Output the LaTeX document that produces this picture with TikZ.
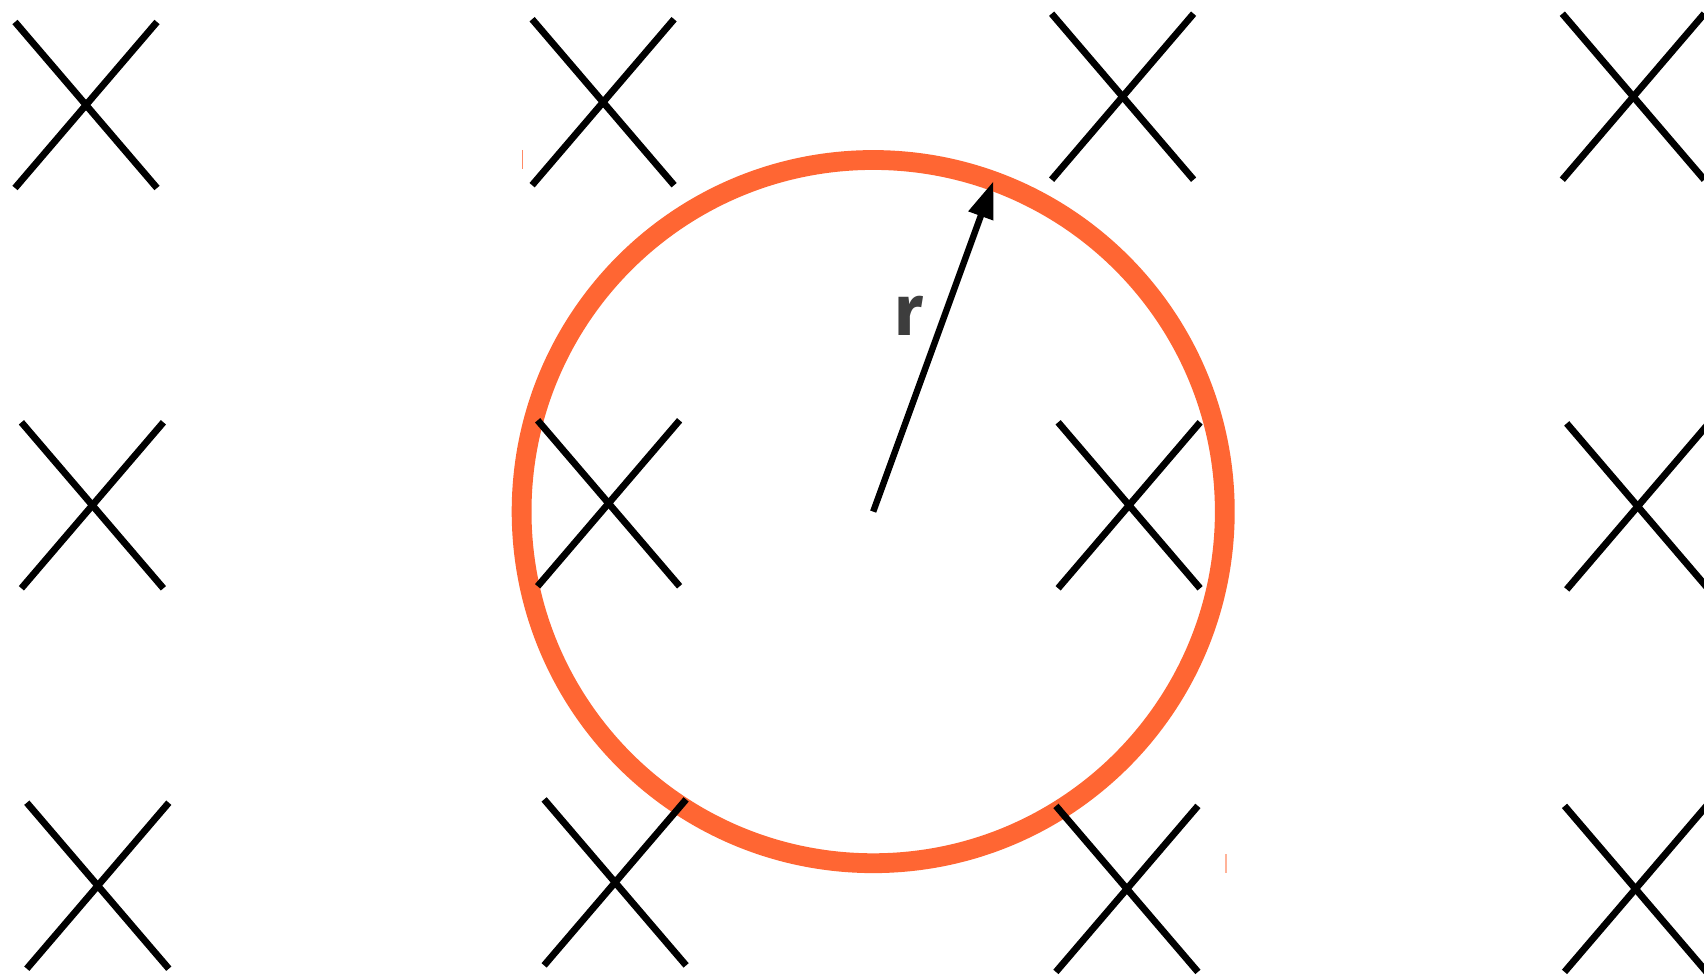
\documentclass[tikz,border=0pt]{standalone}
\usepackage{fontspec}
\setmainfont{Fira Sans}
\usetikzlibrary{arrows.meta}
\definecolor{ringorange}{HTML}{FF6633}
\definecolor{tickorange}{HTML}{FF8A66}
\definecolor{ticklight}{HTML}{FFB399}
\definecolor{labelgray}{HTML}{3D3D3D}
\tikzset{
  xline/.style={line width=6.8pt, line cap=butt, black},
  ring/.style={circle, draw=ringorange, line width=19.8pt, minimum size=703.2pt, inner sep=0pt, outer sep=0pt},
  radiusarrow/.style={line width=6.4pt, black, -{Triangle[length=37pt,width=25pt]}},
  rlabel/.style={text=labelgray, font=\fontsize{72}{72}\selectfont\bfseries, inner sep=0pt},
  pics/xmark/.style={code={
    \draw[xline] (-71,-83) -- (71,83);
    \draw[xline] (-71,83) -- (71,-83);
  }}
}
\begin{document}
\begin{tikzpicture}[x=1pt,y=-1pt]
\clip (0,0) rectangle (1704,976);
\fill[white] (0,0) rectangle (1704,976);
% ring
\node[ring] (c) at (873.2,511.6) {};
% small ticks
\coordinate (t1a) at (522.7,150);
\coordinate (t1b) at (522.7,169.3);
\draw[tickorange, line width=1.3pt] (t1a) -- (t1b);
\coordinate (t2a) at (1225.7,854);
\coordinate (t2b) at (1225.7,872.7);
\draw[ticklight, line width=2pt] (t2a) -- (t2b);
% crosses
\foreach \n/\px/\py in {
  a1/86/105, a2/603.1/102.2, a3/1122.6/96.7, a4/1633.3/96.7,
  b1/92.4/505.3, b2/608.6/503.3, b3/1129.1/505.3, b4/1637.7/506.4,
  c1/97.8/885.7, c2/615.1/882.4, c3/1126.9/888.9, c4/1635.5/888.9}{
  \coordinate (x\n) at (\px,\py);
  \pic at (x\n) {xmark};
}
% radius arrow
\coordinate (tip) at (c.70.74);
\draw[radiusarrow] (c.center) -- (tip);
\node[rlabel] (r) at (909,316) {r};
\end{tikzpicture}
\end{document}
